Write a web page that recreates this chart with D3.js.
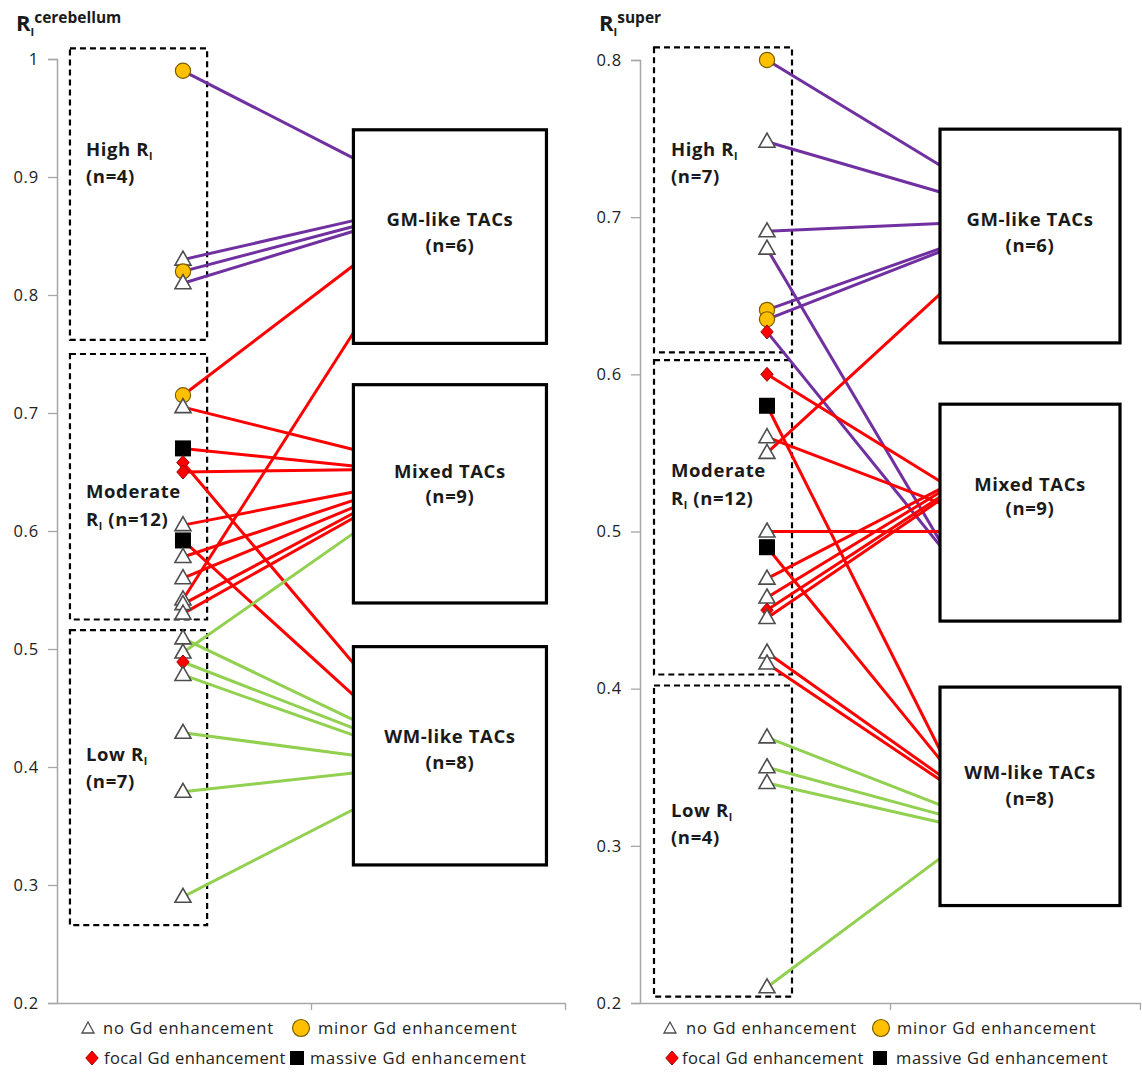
<!DOCTYPE html>
<html>
<head>
<meta charset="utf-8">
<script src="https://cdn.jsdelivr.net/npm/d3@7"></script>
<style>
  html, body { margin: 0; padding: 0; background: #fff; }
  svg { display: block; font-family: "Open Sans", "DejaVu Sans", sans-serif; }
</style>
</head>
<body>
<svg id="chart" width="1142" height="1073"></svg>
<script>
// ---- Cerebellum-referenced R_I, one entry per patient ----
const cerebValue = [0.99, 0.83, 0.82, 0.81,
  0.715, 0.705, 0.67, 0.658, 0.65, 0.605, 0.592, 0.578, 0.56, 0.542, 0.538, 0.53,
  0.509, 0.497, 0.489, 0.478, 0.429, 0.379, 0.29];
const cerebGroup = ["High", "High", "High", "High",
  "Moderate", "Moderate", "Moderate", "Moderate", "Moderate", "Moderate", "Moderate", "Moderate", "Moderate", "Moderate", "Moderate", "Moderate",
  "Low", "Low", "Low", "Low", "Low", "Low", "Low"];
const cerebGd = ["minor", "none", "minor", "none",
  "minor", "none", "massive", "focal", "focal", "none", "massive", "none", "none", "none", "none", "none",
  "none", "none", "focal", "none", "none", "none", "none"];
const cerebTAC = ["GM", "GM", "GM", "GM",
  "GM", "Mixed", "Mixed", "WM", "Mixed", "Mixed", "WM", "Mixed", "Mixed", "GM", "Mixed", "Mixed",
  "WM", "Mixed", "WM", "WM", "WM", "WM", "WM"];
// where each link meets the TAC box edge, in axis units
const cerebLinkEnd = [0.916, 0.863, 0.858, 0.854,
  0.825, 0.669, 0.655, 0.488, 0.652, 0.633, 0.461, 0.626, 0.620, 0.768, 0.615, 0.611,
  0.440, 0.598, 0.433, 0.427, 0.410, 0.395, 0.364];

// ---- Supervised-reference R_I ----
const superValue = [0.80, 0.748, 0.691, 0.680, 0.641, 0.635, 0.627,
  0.600, 0.580, 0.560, 0.550, 0.500, 0.490, 0.470, 0.458, 0.450, 0.445, 0.423, 0.416,
  0.369, 0.350, 0.340, 0.210];
const superGroup = ["High", "High", "High", "High", "High", "High", "High",
  "Moderate", "Moderate", "Moderate", "Moderate", "Moderate", "Moderate", "Moderate", "Moderate", "Moderate", "Moderate", "Moderate", "Moderate",
  "Low", "Low", "Low", "Low"];
const superGd = ["minor", "none", "none", "none", "minor", "minor", "focal",
  "focal", "massive", "none", "none", "none", "massive", "none", "none", "focal", "none", "none", "none",
  "none", "none", "none", "none"];
const superTAC = ["GM", "GM", "GM", "Mixed", "GM", "GM", "Mixed",
  "Mixed", "WM", "Mixed", "GM", "Mixed", "WM", "Mixed", "Mixed", "Mixed", "Mixed", "WM", "WM",
  "WM", "WM", "WM", "WM"];
const superLinkEnd = [0.733, 0.716, 0.696, 0.494, 0.680, 0.678, 0.491,
  0.532, 0.361, 0.518, 0.651, 0.500, 0.355, 0.527, 0.525, 0.522, 0.520, 0.345, 0.342,
  0.326, 0.320, 0.315, 0.292];

// ---- Group and cluster labels ----
const groupNames = ["High", "Moderate", "Low"];
const cerebGroupN = [4, 12, 7];
const superGroupN = [7, 12, 4];
const tacNames = ["GM", "Mixed", "WM"];
const tacLabels = ["GM-like TACs", "Mixed TACs", "WM-like TACs"];
const tacN = [6, 9, 8];
const gdNames = ["none", "minor", "focal", "massive"];
const gdLabels = ["no Gd enhancement", "minor Gd enhancement", "focal Gd enhancement", "massive Gd enhancement"];

// ---- Styling ----
const groupColor = { High: "#7030A0", Moderate: "#FF0000", Low: "#92D050" };
const inkColor = "#1a1a1a";
const axisColor = "#a6a6a6";
const labelFont = { size: "18.5px", spacing: "0.6px" };

const svg = d3.select("#chart");

function boldLabel(sel) {
  return sel.attr("fill", inkColor).style("font-size", labelFont.size)
    .style("font-weight", "bold").style("letter-spacing", labelFont.spacing);
}

// Draw one marker shape centred at (0,0)
function drawMarker(g, kind) {
  if (kind === "none") {
    g.append("path").attr("d", "M0,-8.5L8,5.5L-8,5.5Z")
      .attr("fill", "#fff").attr("stroke", "#4d4d4d").attr("stroke-width", 1.6)
      .attr("stroke-linejoin", "miter");
  } else if (kind === "minor") {
    g.append("circle").attr("r", 7.6)
      .attr("fill", "#FFC000").attr("stroke", "#7a5c00").attr("stroke-width", 1.2);
  } else if (kind === "focal") {
    g.append("path").attr("d", "M0,-7L6.2,0L0,7L-6.2,0Z")
      .attr("fill", "#FF0000").attr("stroke", "#a00000").attr("stroke-width", 1);
  } else {
    g.append("rect").attr("x", -8).attr("y", -8).attr("width", 16).attr("height", 16)
      .attr("fill", "#000");
  }
}

function panel(cfg) {
  const x = d3.scaleLinear().domain([0, 2]).range(cfg.xRange);
  const y = d3.scaleLinear().domain(cfg.yDomain).range(cfg.yRange);
  const g = svg.append("g");

  // y axis
  const yAxis = d3.axisLeft(y).tickValues(cfg.ticks).tickSize(9).tickPadding(9)
    .tickFormat(d => d3.format("")(+d.toFixed(1)));
  const ya = g.append("g").attr("transform", `translate(${x(0)},0)`).call(yAxis);
  ya.select(".domain").attr("stroke", axisColor).attr("stroke-width", 1.5);
  ya.selectAll(".tick line").attr("stroke", axisColor).attr("stroke-width", 1.3);
  ya.selectAll(".tick text").attr("fill", "#222").style("font-size", "16.5px")
    .style("letter-spacing", "0.8px").style("font-family", '"Open Sans", sans-serif');

  // x axis (two unlabeled categories)
  const xAxis = d3.axisBottom(x).tickValues([1, 2]).tickSize(7).tickFormat("").tickSizeOuter(0);
  const xa = g.append("g").attr("transform", `translate(0,${y(cfg.yDomain[0])})`).call(xAxis);
  xa.select(".domain").attr("stroke", axisColor).attr("stroke-width", 1.5);
  xa.selectAll(".tick line").attr("stroke", axisColor).attr("stroke-width", 1.3);

  // dashed R_I group boxes
  cfg.groupBoxes.forEach((b, i) => {
    g.append("rect")
      .attr("x", x(cfg.groupX[0])).attr("width", x(cfg.groupX[1]) - x(cfg.groupX[0]))
      .attr("y", y(b[0])).attr("height", y(b[1]) - y(b[0]))
      .attr("fill", "none").attr("stroke", "#000").attr("stroke-width", 2.2)
      .attr("stroke-dasharray", "6,4");
    const lab = boldLabel(g.append("text").attr("x", cfg.groupLabelX).attr("y", cfg.groupLabelY[i]));
    const n = cfg.groupN[i];
    if (groupNames[i] === "Moderate") {
      lab.append("tspan").text("Moderate");
      const l2 = boldLabel(g.append("text").attr("x", cfg.groupLabelX).attr("y", cfg.groupLabelY[i] + 28));
      l2.append("tspan").text("R");
      l2.append("tspan").text("I").attr("dy", 4).style("font-size", "10.5px");
      l2.append("tspan").text(` (n=${n})`).attr("dy", -4);
    } else {
      lab.append("tspan").text(groupNames[i] + " R");
      lab.append("tspan").text("I").attr("dy", 4).style("font-size", "10.5px");
      boldLabel(g.append("text").attr("x", cfg.groupLabelX).attr("y", cfg.groupLabelY[i] + 27))
        .text(`(n=${n})`);
    }
  });

  // links from each patient to its TAC cluster
  const idx = d3.range(cfg.values.length);
  g.append("g").selectAll("line").data(idx).join("line")
    .attr("x1", x(cfg.pointX)).attr("y1", i => y(cfg.values[i]))
    .attr("x2", x(cfg.tacX[0])).attr("y2", i => y(cfg.linkEnd[i]))
    .attr("stroke", i => groupColor[cfg.groups[i]]).attr("stroke-width", 3);

  // TAC cluster boxes
  tacNames.forEach((t, i) => {
    const b = cfg.tacBoxes[i];
    g.append("rect")
      .attr("x", x(cfg.tacX[0])).attr("width", x(cfg.tacX[1]) - x(cfg.tacX[0]))
      .attr("y", y(b[0])).attr("height", y(b[1]) - y(b[0]))
      .attr("fill", "#fff").attr("stroke", "#000").attr("stroke-width", 3.2);
    const cx = (x(cfg.tacX[0]) + x(cfg.tacX[1])) / 2;
    boldLabel(g.append("text").attr("x", cx).attr("y", cfg.tacLabelY[i][0]))
      .attr("text-anchor", "middle").text(tacLabels[i]);
    boldLabel(g.append("text").attr("x", cx).attr("y", cfg.tacLabelY[i][1]))
      .attr("text-anchor", "middle").text(`(n=${tacN[i]})`);
  });

  // patient markers
  idx.forEach(i => {
    const m = g.append("g").attr("transform", `translate(${x(cfg.pointX)},${y(cfg.values[i])})`);
    drawMarker(m, cfg.gd[i]);
  });

  // panel title
  const t = g.append("text").attr("x", cfg.titleX).attr("y", 31).attr("fill", inkColor)
    .style("font-weight", "bold");
  t.append("tspan").text("R").style("font-size", "22px");
  t.append("tspan").text("I").attr("dy", 5).style("font-size", "11px");
  t.append("tspan").text(cfg.titleSup).attr("dy", -13).style("font-size", "15.5px");

  // legend
  const lg = g.append("g");
  cfg.legend.forEach((L, i) => {
    const item = lg.append("g");
    const mk = item.append("g").attr("transform", `translate(${L[0]},${L[1]})`);
    if (gdNames[i] === "none") {
      mk.append("path").attr("d", "M0,-6L6,5L-6,5Z").attr("fill", "#fff")
        .attr("stroke", "#4d4d4d").attr("stroke-width", 1.3);
    } else {
      drawMarker(mk, gdNames[i]);
      if (gdNames[i] === "minor") mk.select("circle").attr("r", 8.5);
      if (gdNames[i] === "massive") mk.select("rect").attr("x", -7).attr("y", -7).attr("width", 14).attr("height", 14);
    }
    item.append("text").attr("x", L[2]).attr("y", L[1] + 6).attr("fill", "#222")
      .style("font-size", "16.5px").style("letter-spacing", L[3]).text(gdLabels[i]);
  });
}

panel({
  xRange: [57, 565], yDomain: [0.2, 1], yRange: [1003, 59],
  ticks: [0.2, 0.3, 0.4, 0.5, 0.6, 0.7, 0.8, 0.9, 1],
  values: cerebValue, groups: cerebGroup, gd: cerebGd, tac: cerebTAC, linkEnd: cerebLinkEnd,
  pointX: 0.496, groupX: [0.051, 0.591], tacX: [1.167, 1.927],
  groupBoxes: [[1.009, 0.762], [0.750, 0.525], [0.516, 0.266]],
  groupN: cerebGroupN, groupLabelX: 86, groupLabelY: [156, 498, 761],
  tacBoxes: [[0.940, 0.759], [0.724, 0.539], [0.502, 0.317]],
  tacLabelY: [[226, 252], [478, 503], [743, 769]],
  titleX: 16, titleSup: "cerebellum",
  legend: [[88, 1028, 103, "0.8px"], [301, 1028, 318, "0.8px"],
           [92, 1058, 104, "0.4px"], [297, 1058, 310, "0.8px"]]
});

panel({
  xRange: [640, 1140], yDomain: [0.2, 0.8], yRange: [1003, 60],
  ticks: [0.2, 0.3, 0.4, 0.5, 0.6, 0.7, 0.8],
  values: superValue, groups: superGroup, gd: superGd, tac: superTAC, linkEnd: superLinkEnd,
  pointX: 0.508, groupX: [0.056, 0.608], tacX: [1.2, 1.92],
  groupBoxes: [[0.808, 0.614], [0.609, 0.409], [0.402, 0.204]],
  groupN: superGroupN, groupLabelX: 671, groupLabelY: [156, 477, 817],
  tacBoxes: [[0.756, 0.620], [0.581, 0.443], [0.401, 0.262]],
  tacLabelY: [[226, 252], [491, 515], [779, 805]],
  titleX: 599, titleSup: "super",
  legend: [[670, 1028, 686, "0.8px"], [881, 1028, 897, "0.8px"],
           [672, 1058, 682, "0.4px"], [880, 1058, 896, "0.6px"]]
});
</script>
</body>
</html>
